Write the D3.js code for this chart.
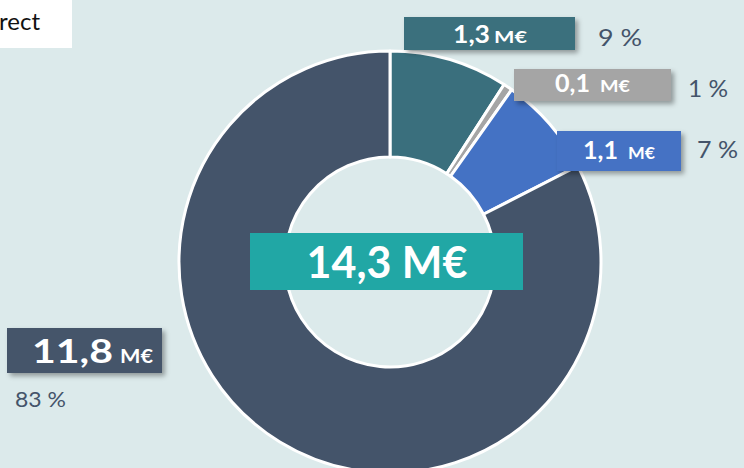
<!DOCTYPE html>
<html>
<head>
<meta charset="utf-8">
<script src="https://cdn.jsdelivr.net/npm/d3@7"></script>
<style>
  html, body { margin: 0; padding: 0; background: #dceaeb; }
  svg { display: block; font-family: Lato, "Open Sans", sans-serif; }
</style>
</head>
<body>
<svg id="chart" width="744" height="468"></svg>
<script>
// data
const categories = ["A", "B", "C", "D"];
const values = [1.3, 0.1, 1.1, 11.8];
const valueLabels = ["1,3", "0,1", "1,1", "11,8"];
const unitLabel = "M€";
const pctLabels = ["9 %", "1 %", "7 %", "83 %"];
const colors = ["#3a6f7d", "#a5a5a5", "#4472c4", "#44546a"];
const totalLabel = "14,3 M€";

// label boxes (layout only): box, value text span, unit text span, percent text span
const boxes = [
  {x: 404, y: 17, w: 171, h: 33, base: 43, fs: 24, vx: [453, 490], us: 17, ux: [494, 527], px: [598, 642], py: 46, ps: 24},
  {x: 514, y: 69, w: 157, h: 32, base: 92, fs: 24, vx: [555, 590], us: 17, ux: [600, 630], px: [688, 728], py: 97, ps: 24},
  {x: 557, y: 131, w: 124, h: 40, base: 159, fs: 24, vx: [583, 618], us: 17, ux: [628, 655], px: [697, 738], py: 158, ps: 24},
  {x: 7, y: 328, w: 155, h: 45, base: 363, fs: 33, vx: [32, 113], us: 19, ux: [120, 153], px: [15, 66], py: 407, ps: 22}
];

const svg = d3.select("#chart");
const W = 744, H = 468;
const cx = 390, cy = 262, rOuter = 211, rInner = 105;

const defs = svg.append("defs");
const f = defs.append("filter").attr("id", "shadow")
  .attr("x", "-10%").attr("y", "-20%").attr("width", "130%").attr("height", "160%");
f.append("feDropShadow").attr("dx", 3).attr("dy", 3).attr("stdDeviation", 2.5)
  .attr("flood-color", "#000").attr("flood-opacity", 0.35);

svg.append("rect").attr("width", W).attr("height", H).attr("fill", "#dceaeb");

// top-left cut-off legend box
svg.append("rect").attr("x", 0).attr("y", 0).attr("width", 72).attr("height", 48).attr("fill", "#ffffff");
svg.append("text").attr("x", -1).attr("y", 30).attr("font-size", 24).attr("fill", "#111")
  .text("rect");

const pie = d3.pie().sort(null).value(d => d)(values);
const arc = d3.arc().innerRadius(rInner).outerRadius(rOuter);

const g = svg.append("g").attr("transform", `translate(${cx},${cy})`);
g.selectAll("path.slice")
  .data(pie)
  .enter()
  .append("path")
  .attr("class", "slice")
  .attr("d", arc)
  .attr("fill", (d, i) => colors[i])
  .attr("stroke", "#ffffff")
  .attr("stroke-width", 3)
  .attr("stroke-linejoin", "round");

// center total
svg.append("rect").attr("x", 250).attr("y", 233).attr("width", 273).attr("height", 57).attr("fill", "#21a7a5");
svg.append("text").attr("x", 387).attr("y", 278).attr("text-anchor", "middle")
  .attr("font-size", 43).attr("font-weight", 700).attr("fill", "#ffffff")
  .text(totalLabel);

// stretched text helper (labels in the source are wider than the font)
let fitText = (x0, x1, y, size, weight, fill, str) =>
  svg.append("text")
    .attr("x", x0).attr("y", y)
    .attr("font-size", size).attr("font-weight", weight).attr("fill", fill)
    .attr("textLength", x1 - x0).attr("lengthAdjust", "spacingAndGlyphs")
    .text(str);

// value + percent labels
boxes.forEach((b, i) => {
  svg.append("rect").attr("x", b.x).attr("y", b.y).attr("width", b.w).attr("height", b.h)
    .attr("fill", colors[i]).attr("filter", "url(#shadow)");
  fitText(b.vx[0], b.vx[1], b.base, b.fs, 700, "#ffffff", valueLabels[i]);
  fitText(b.ux[0], b.ux[1], b.base, b.us, 700, "#ffffff", unitLabel);
  fitText(b.px[0], b.px[1], b.py, b.ps, 400, "#44546a", pctLabels[i]);
});
</script>
</body>
</html>
